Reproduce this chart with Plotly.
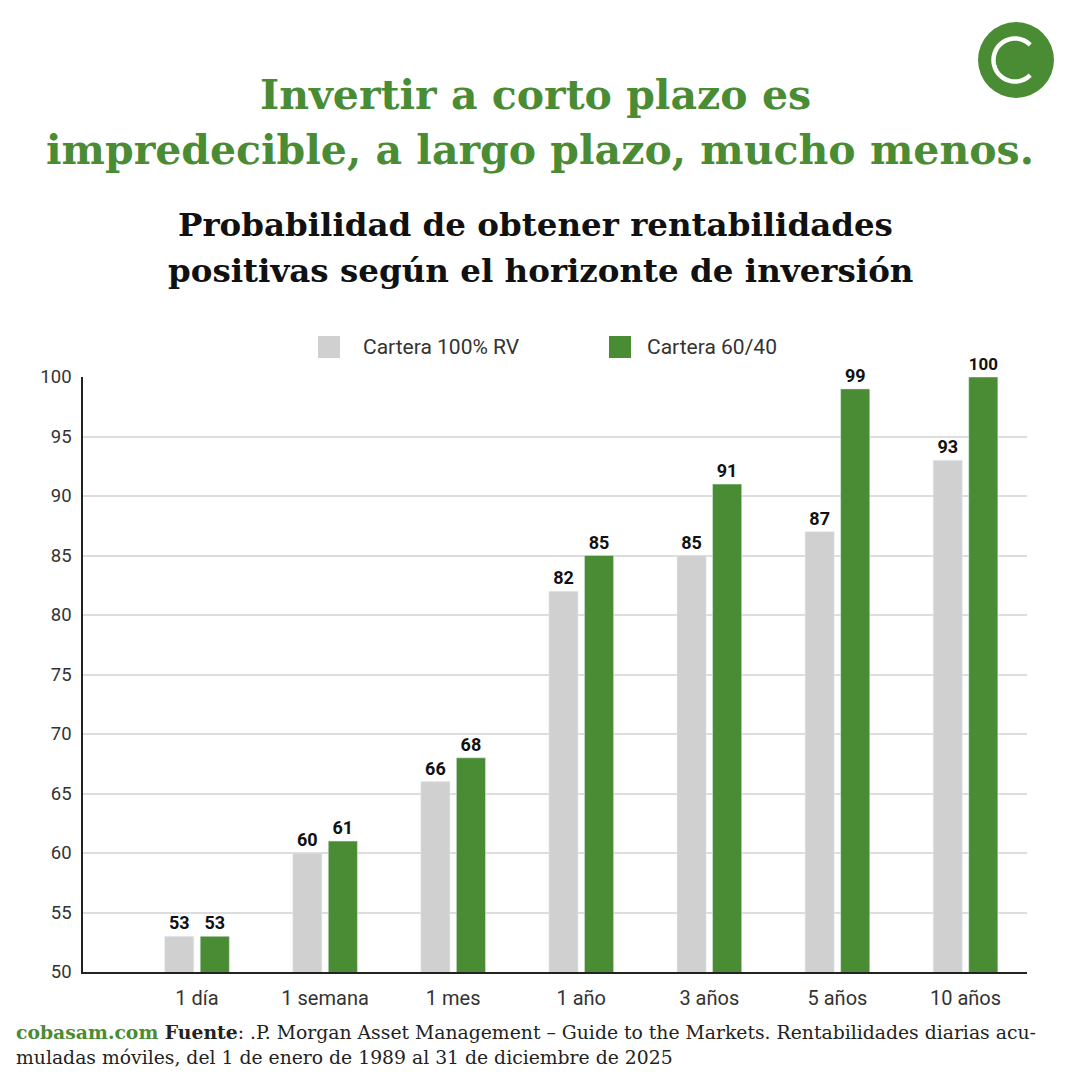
import math
import plotly.graph_objects as go

categories = ["1 día", "1 semana", "1 mes", "1 año", "3 años", "5 años", "10 años"]
rv100 = [53, 60, 66, 82, 85, 87, 93]
mix6040 = [53, 61, 68, 85, 91, 99, 100]
series_names = ["Cartera 100% RV", "Cartera 60/40"]
y_ticks = [50, 55, 60, 65, 70, 75, 80, 85, 90, 95, 100]

GRAY = "#d1d0d0"
GREEN = "#4a8c34"

W = H = 1081
L, R, T, B = 83, 1027, 377, 972

def px(x):
    return (x - L) / (R - L)

def py(y):
    return (B - y) / (B - T)

colors = [GRAY, GREEN]
fig = go.Figure()
for name, vals, col in zip(series_names, [rv100, mix6040], colors):
    fig.add_trace(go.Bar(x=categories, y=vals, name=name, marker_color=col,
                         text=vals, textposition="outside", cliponaxis=False,
                         textfont=dict(family="Roboto", size=18, color="#111111", weight="bold")))

fig.update_layout(
    width=W, height=H,
    margin=dict(l=L, r=W - R, t=T, b=H - B, pad=0),
    paper_bgcolor="white", plot_bgcolor="white",
    barmode="group", bargap=0.445, bargroupgap=0.18,
    font=dict(family="Roboto", color="#333333"),
    showlegend=False,
    xaxis=dict(type="category", range=[-0.89, 6.48], showgrid=False,
               showline=True, linecolor="#222222", linewidth=1.5,
               ticks="", tickfont=dict(size=20, color="#333333"), ticklabelstandoff=7),
    yaxis=dict(range=[50, 100], tickvals=y_ticks, showgrid=True, gridcolor="#dddddd",
               gridwidth=1.5, showline=True, linecolor="#222222", linewidth=1.5,
               ticks="", tickfont=dict(size=18.5, color="#333333"), ticklabelstandoff=6,
               zeroline=False),
)

ann = []
ann.append(dict(text="Invertir a corto plazo es", x=px(535), y=py(95), xref="paper", yref="paper",
                showarrow=False, xanchor="center", yanchor="middle",
                font=dict(family="DejaVu Serif", size=41, color=GREEN, weight="bold")))
ann.append(dict(text="impredecible, a largo plazo, mucho menos.", x=px(540), y=py(150), xref="paper", yref="paper",
                showarrow=False, xanchor="center", yanchor="middle",
                font=dict(family="DejaVu Serif", size=41, color=GREEN, weight="bold")))
ann.append(dict(text="Probabilidad de obtener rentabilidades", x=px(535), y=py(224), xref="paper", yref="paper",
                showarrow=False, xanchor="center", yanchor="middle",
                font=dict(family="DejaVu Serif", size=32.5, color="#111111", weight="bold")))
ann.append(dict(text="positivas según el horizonte de inversión", x=px(540), y=py(270), xref="paper", yref="paper",
                showarrow=False, xanchor="center", yanchor="middle",
                font=dict(family="DejaVu Serif", size=32.5, color="#111111", weight="bold")))
ann.append(dict(text="<b><span style='color:#4a8c34'>cobasam.com</span> Fuente</b>: .P. Morgan Asset Management – Guide to the Markets. Rentabilidades diarias acu-",
                x=px(14), y=py(1032), xref="paper", yref="paper", showarrow=False,
                xanchor="left", yanchor="middle",
                font=dict(family="DejaVu Serif", size=18.8, color="#222222")))
ann.append(dict(text="muladas móviles, del 1 de enero de 1989 al 31 de diciembre de 2025",
                x=px(14), y=py(1057), xref="paper", yref="paper", showarrow=False,
                xanchor="left", yanchor="middle",
                font=dict(family="DejaVu Serif", size=18.8, color="#222222")))

# custom legend
leg_sq_x = [318, 609]
leg_txt_x = [361, 645]
for name, col, sx, tx in zip(series_names, colors, leg_sq_x, leg_txt_x):
    fig.add_shape(type="rect", xref="paper", yref="paper",
                  x0=px(sx), x1=px(sx + 22), y0=py(358), y1=py(336),
                  fillcolor=col, line=dict(width=0))
    ann.append(dict(text=name, x=px(tx), y=py(347), xref="paper", yref="paper",
                    showarrow=False, xanchor="left", yanchor="middle",
                    font=dict(family="Roboto", size=21, color="#333333")))
fig.update_layout(annotations=ann)

# logo
cx, cy = px(1016), py(60)
fig.add_shape(type="circle", xref="paper", yref="paper", xsizemode="pixel", ysizemode="pixel",
              xanchor=cx, yanchor=cy, x0=-38, x1=38, y0=-38, y1=38,
              fillcolor=GREEN, line=dict(width=0))
r = 21.5
pts = []
for k in range(0, 61):
    a = math.radians(45 + k * (270 / 60))
    pts.append((r * math.cos(a) - 1, r * math.sin(a)))
path = "M " + " L ".join(f"{x:.2f} {y:.2f}" for x, y in pts)
fig.add_shape(type="path", xref="paper", yref="paper", xsizemode="pixel", ysizemode="pixel",
              xanchor=cx, yanchor=cy, path=path,
              line=dict(color="white", width=4.5), fillcolor="rgba(0,0,0,0)")

fig.write_html("out.html")
